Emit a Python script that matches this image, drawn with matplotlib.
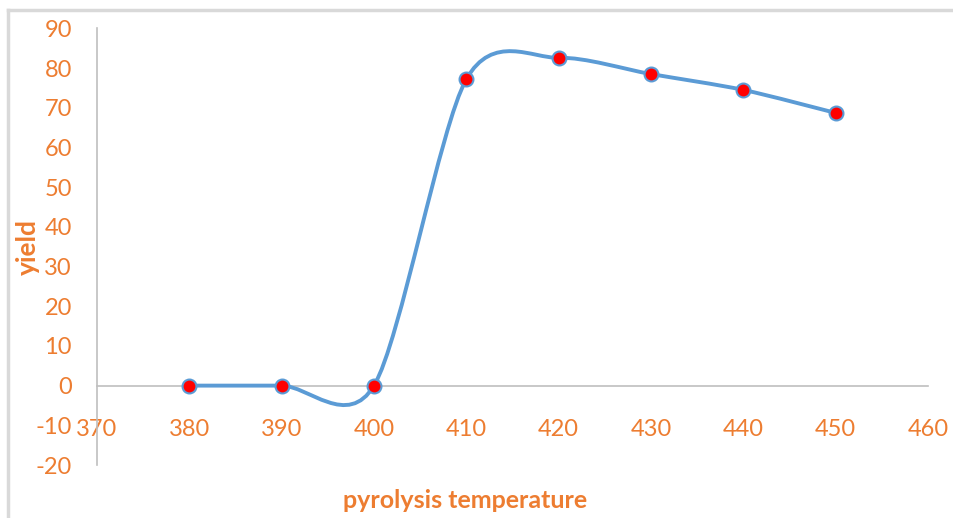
import numpy as np
import matplotlib
matplotlib.use("Agg")
import matplotlib.pyplot as plt
from matplotlib.path import Path
from matplotlib.patches import PathPatch
from matplotlib.lines import Line2D

temps = [380, 390, 400, 410, 420, 430, 440, 450]
yields = [0, 0, 0, 77.2, 82.6, 78.5, 74.5, 68.7]
x_ticks = [370, 380, 390, 400, 410, 420, 430, 440, 450, 460]
y_ticks = [-20, -10, 0, 10, 20, 30, 40, 50, 60, 70, 80, 90]

orange = "#ED7D31"
blue = "#5B9BD5"
axis_gray = "#BFBFBF"
plt.rcParams["font.family"] = ["Lato", "DejaVu Sans"]
plt.rcParams["axes.unicode_minus"] = False

fig = plt.figure(figsize=(9.54, 5.18), dpi=100)
ax = fig.add_axes([97 / 954, 53 / 518, 831 / 954, 436.6 / 518])

# excel style smoothed line: cubic bezier through the points
pts = np.column_stack([temps, yields]).astype(float)
ext = np.vstack([pts[0], pts, pts[-1]])
verts = [pts[0]]
codes = [Path.MOVETO]
for i in range(len(pts) - 1):
    c1 = pts[i] + (ext[i + 2] - ext[i]) / 7
    c2 = pts[i + 1] - (ext[i + 3] - ext[i + 1]) / 7
    verts += [c1, c2, pts[i + 1]]
    codes += [Path.CURVE4] * 3
ax.add_patch(PathPatch(Path(verts, codes), facecolor="none", edgecolor=blue,
                       lw=2.8, capstyle="round", zorder=3))
ax.plot(temps, yields, ls="none", marker="o", ms=10, mfc="red", mec=blue,
        mew=1.5, zorder=4)

ax.set_xlim(370, 460)
ax.set_ylim(-20, 90)
ax.set_xticks(x_ticks)
ax.set_yticks(y_ticks)
for s in ["top", "right"]:
    ax.spines[s].set_visible(False)
ax.spines["bottom"].set_position(("data", 0))
ax.spines["bottom"].set_color(axis_gray)
ax.spines["left"].set_color(axis_gray)
ax.spines["bottom"].set_linewidth(1.2)
ax.spines["left"].set_linewidth(1.2)
ax.tick_params(axis="x", length=0, pad=24, labelsize=17, labelcolor=orange)
ax.tick_params(axis="y", length=0, pad=18, labelsize=17, labelcolor=orange)

fig.text(28 / 954, 1 - 247 / 518, "yield", rotation=90, color=orange,
         fontsize=19, fontweight="bold", ha="center", va="center")
fig.text(465 / 954, 1 - 500 / 518, "pyrolysis temperature", color=orange,
         fontsize=18, fontweight="bold", ha="center", va="center")

# chart area border (only top and left visible in the crop)
fig.add_artist(Line2D([8 / 954, 8 / 954], [0, 1 - 10 / 518],
                      transform=fig.transFigure, color="#D9D9D9", lw=2.5))
fig.add_artist(Line2D([8 / 954, 1], [1 - 10 / 518, 1 - 10 / 518],
                      transform=fig.transFigure, color="#D9D9D9", lw=2.5))

fig.savefig("out.png", dpi=100)
